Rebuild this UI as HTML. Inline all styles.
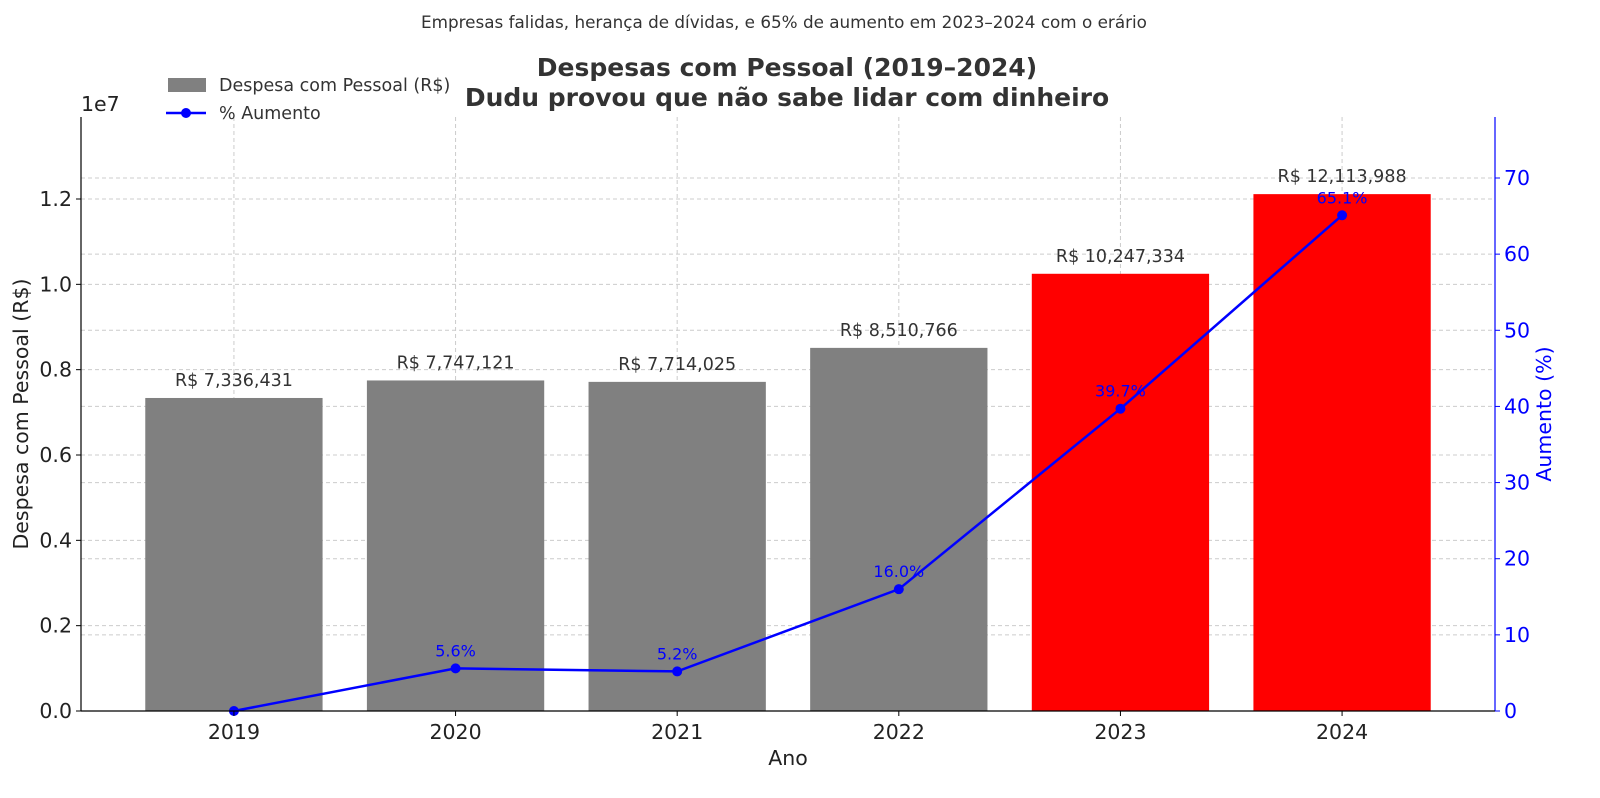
<!DOCTYPE html>
<html><head><meta charset="utf-8"><style>
body{margin:0;background:#fff;}
svg{display:block;font-family:"DejaVu Sans","Liberation Sans",sans-serif;}
</style></head><body>
<svg id="chart" width="1600" height="798" xmlns="http://www.w3.org/2000/svg">
<text x="784" y="28" text-anchor="middle" font-size="16.8" fill="#333">Empresas falidas, herança de dívidas, e 65% de aumento em 2023–2024 com o erário</text>
<text x="787" y="76" text-anchor="middle" font-size="25" font-weight="bold" fill="#333">Despesas com Pessoal (2019–2024)</text>
<text x="787" y="106" text-anchor="middle" font-size="25" font-weight="bold" fill="#333">Dudu provou que não sabe lidar com dinheiro</text>
<g id="grid"></g>
<g id="bars"></g>
<g id="line"></g>
<g id="axes"></g>
<g>
<rect x="168" y="78" width="38" height="14" fill="#808080"/>
<text x="219" y="91" font-size="17.5" fill="#333">Despesa com Pessoal (R$)</text>
<line x1="166" y1="113" x2="206" y2="113" stroke="#0000ff" stroke-width="2.5"/>
<circle cx="186" cy="113" r="5" fill="#0000ff"/>
<text x="219" y="119" font-size="17.5" fill="#333">% Aumento</text>
</g>
</svg>
<script>
const years=["2019","2020","2021","2022","2023","2024"];
const spend=[7336431,7747121,7714025,8510766,10247334,12113988];
const pct=[0,5.6,5.2,16.0,39.7,65.1];
const barColors=["#808080","#808080","#808080","#808080","#ff0000","#ff0000"];
const leftTicks=[0,0.2,0.4,0.6,0.8,1.0,1.2];
const rightTicks=[0,10,20,30,40,50,60,70];

const NS="http://www.w3.org/2000/svg";
const L=81,R=1495,T=117,B=711;
const xs=i=>L+(i+0.69)*(R-L)/(years.length-1+1.38);
const yL=v=>B-v/1e7*(B-199)/1.2;
const yR=v=>B-v*(B-178)/70;
function mk(tag,attrs,parent,txt){const e=document.createElementNS(NS,tag);for(const k in attrs)e.setAttribute(k,attrs[k]);if(txt!==undefined)e.textContent=txt;parent.appendChild(e);return e;}
const grid=document.getElementById('grid'),bars=document.getElementById('bars'),line=document.getElementById('line'),axes=document.getElementById('axes');
const bw=(R-L)/(years.length+0.38)*0.8;

leftTicks.forEach(t=>{const y=yL(t*1e7);
 const g=mk('line',{x1:L,x2:R,y1:y,y2:y,stroke:'#ccc','stroke-dasharray':'4,3'},grid);
 
 
 mk('line',{x1:L-5,x2:L,y1:y,y2:y,stroke:'#000'},axes);
 const tx=mk('text',{x:L-9,y:y+7,'text-anchor':'end','font-size':20.5,fill:'#222'},axes,t.toFixed(1));
 
 
});
rightTicks.forEach(t=>{const y=yR(t);
 const g=mk('line',{x1:L,x2:R,y1:y,y2:y,stroke:'#ccc','stroke-dasharray':'4,3'},grid);
 
 
 mk('line',{x1:R,x2:R+5,y1:y,y2:y,stroke:'#0000ff'},axes);
 const tx=mk('text',{x:R+9,y:y+7,'font-size':20.5,fill:'#0000ff'},axes,String(t));
 
 
});
years.forEach((yr,i)=>{const x=xs(i);
 const g=mk('line',{x1:x,x2:x,y1:T,y2:B,stroke:'#ccc','stroke-dasharray':'4,3'},grid);
 
 
 const b=mk('rect',{x:x-bw/2,y:yL(spend[i]),width:bw,height:B-yL(spend[i]),fill:barColors[i]},bars);
 
 
 const lb=mk('text',{x:x,y:yL(spend[i])-12,'text-anchor':'middle','font-size':17.5,fill:'#333'},bars,'R$ '+spend[i].toLocaleString('en-US'));
 
 
 mk('line',{x1:x,x2:x,y1:B,y2:B+5,stroke:'#000'},axes);
 const tx=mk('text',{x:x,y:B+28,'text-anchor':'middle','font-size':20.5,fill:'#222'},axes,yr);
 
 
});
const pl=mk('polyline',{points:pct.map((p,i)=>xs(i)+','+yR(p)).join(' '),fill:'none',stroke:'#0000ff','stroke-width':2.5},line);


pct.forEach((p,i)=>{
 const c=mk('circle',{cx:xs(i),cy:yR(p),r:5,fill:'#0000ff'},line);
 
 
 if(i>0){const t=mk('text',{x:xs(i),y:yR(p)-12,'text-anchor':'middle','font-size':16,fill:'#0000ff'},line,p.toFixed(1)+'%');
 
 }
});
mk('line',{x1:L,x2:L,y1:T,y2:B,stroke:'#000','stroke-width':1.2},axes);
mk('line',{x1:R,x2:R,y1:T,y2:B,stroke:'#0000ff','stroke-width':1.2},axes);
mk('line',{x1:L,x2:R,y1:B,y2:B,stroke:'#000','stroke-width':1.2},axes);
const e7=mk('text',{x:81,y:111,'font-size':20.5,fill:'#222'},axes,'1e7');


const xt=mk('text',{x:788,y:765,'text-anchor':'middle','font-size':20.5,fill:'#222'},axes,'Ano');


const yt=mk('text',{x:28,y:414,'text-anchor':'middle','font-size':20.5,fill:'#222',transform:'rotate(-90 28 414)'},axes,'Despesa com Pessoal (R$)');


const yt2=mk('text',{x:1551,y:414,'text-anchor':'middle','font-size':20.5,fill:'#0000ff',transform:'rotate(-90 1551 414)'},axes,'Aumento (%)');


</script>
</body></html>
